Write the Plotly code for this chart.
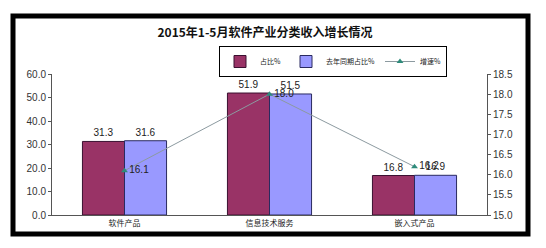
import plotly.graph_objects as go

categories = ["软件产品", "信息技术服务", "嵌入式产品"]
share = [31.3, 51.9, 16.8]
share_last_year = [31.6, 51.5, 16.9]
growth = [16.1, 18.0, 16.2]

FONT = "Noto Sans CJK SC, Arial, sans-serif"

fig = go.Figure()
fig.add_trace(go.Bar(
    x=categories, y=share, name="占比%",
    marker=dict(color="#993366", line=dict(color="#3a1030", width=1)),
    text=[f"{v:.1f}" for v in share], textposition="outside",
    textfont=dict(size=10, color="#222", family="Arial"), cliponaxis=False,
))
fig.add_trace(go.Bar(
    x=categories, y=share_last_year, name="去年同期占比%",
    marker=dict(color="#9999FF", line=dict(color="#2a2a60", width=1)),
    text=[f"{v:.1f}" for v in share_last_year], textposition="outside",
    textfont=dict(size=10, color="#222", family="Arial"), cliponaxis=False,
))
fig.add_trace(go.Scatter(
    x=categories, y=growth, name="增速%", yaxis="y2",
    mode="lines+markers+text",
    line=dict(color="#8c9aa0", width=1),
    marker=dict(symbol="triangle-up", size=6, color="#2e8b7a"),
    text=[f"{v:.1f}" for v in growth], textposition="middle right",
    textfont=dict(size=10, color="#222", family="Arial"), cliponaxis=False,
))

fig.update_layout(
    width=546, height=248,
    margin=dict(l=52, r=59, t=74, b=33),
    paper_bgcolor="white", plot_bgcolor="white",
    barmode="group", bargap=0.42, bargroupgap=0,
    font=dict(family=FONT, size=10, color="#333"),
    showlegend=True,
    legend=dict(orientation="h", x=(219 - 52) / 435, y=(215 - 46) / 141,
                xanchor="left", yanchor="top",
                bordercolor="#000", borderwidth=1, bgcolor="white",
                font=dict(size=7, family=FONT, color="#222"),
                itemwidth=30, tracegroupgap=0),
    title=dict(text="<b>2015年1-5月软件产业分类收入增长情况</b>",
               x=265 / 546, xanchor="center", y=1 - 33 / 248, yanchor="middle",
               font=dict(size=12, family=FONT, color="#111")),
    xaxis=dict(showline=True, linecolor="#555", linewidth=1,
               tickfont=dict(size=8, family=FONT, color="#222"),
               ticks="", showgrid=False),
    yaxis=dict(range=[0, 60], dtick=10, tickformat=".1f",
               showline=True, linecolor="#555", linewidth=1,
               ticks="outside", ticklen=3, tickcolor="#555",
               showgrid=False, zeroline=False,
               tickfont=dict(size=10, family="Arial", color="#333")),
    yaxis2=dict(range=[15, 18.5], dtick=0.5, tickformat=".1f",
                overlaying="y", side="right",
                showline=True, linecolor="#555", linewidth=1,
                ticks="outside", ticklen=3, tickcolor="#555",
                showgrid=False, zeroline=False,
                tickfont=dict(size=10, family="Arial", color="#333")),
)

# outer black frame
def px_x(px):
    return (px - 52) / 435
def px_y(py):
    return (215 - py) / 141

fig.add_shape(type="rect", xref="paper", yref="paper",
              x0=px_x(13), x1=px_x(528), y0=px_y(234), y1=px_y(16),
              line=dict(color="#000", width=5), fillcolor="rgba(0,0,0,0)", layer="above")

fig.write_html("out.html")
